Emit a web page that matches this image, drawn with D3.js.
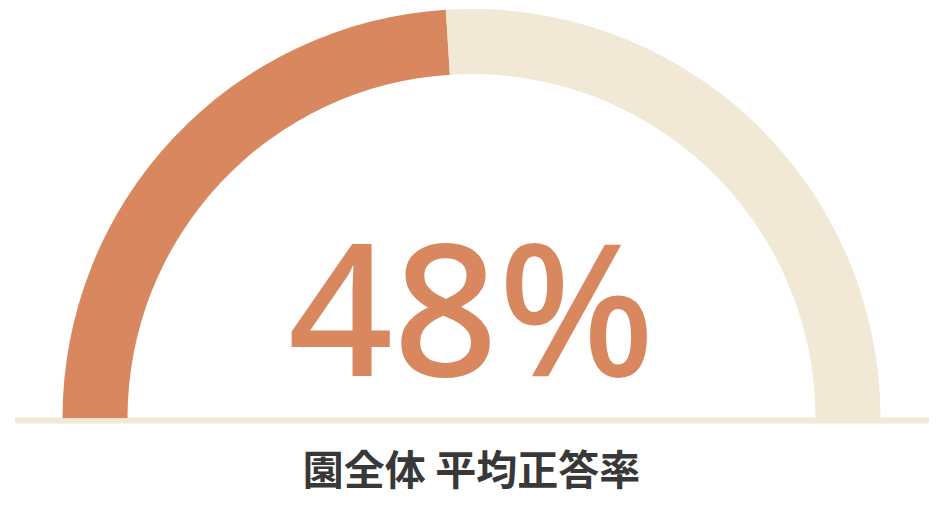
<!DOCTYPE html>
<html>
<head>
<meta charset="utf-8">
<script src="https://cdn.jsdelivr.net/npm/d3@7"></script>
<style>
  body { margin: 0; background: #fff; }
</style>
</head>
<body>
<div id="gauge"></div>
<script>
// valeurs du graphique
const rateValue = [48];
const rateMax = [100];
const labelText = ["園全体 平均正答率"];
const arcColors = ["#D9875F", "#F2E8D6"];

const width = 946,
    height = 530;

const cx = 471.5, cy = 418,
    outerR = 409, innerR = 344;

var svg = d3.select("#gauge")
    .append("svg")
    .attr("width", width)
    .attr("height", height);

// echelle angle : 0 -> -90°, 100 -> +90°
var angle = d3.scaleLinear()
    .domain([0, rateMax[0]])
    .range([-Math.PI / 2, Math.PI / 2]);

var arc = d3.arc()
    .innerRadius(innerR)
    .outerRadius(outerR);

const parts = [
    { start: 0, end: rateValue[0] },
    { start: rateValue[0], end: rateMax[0] }
];

var g = svg.append("g")
    .attr("transform", `translate(${cx}, ${cy})`);

// ligne de base
g.append("line")
    .attr("x1", 15 - cx)
    .attr("x2", 929 - cx)
    .attr("y1", 2.5)
    .attr("y2", 2.5)
    .attr("stroke", arcColors[1])
    .attr("stroke-width", 6);

g.selectAll("path.part")
    .data(parts)
    .join("path")
    .attr("class", "part")
    .attr("d", d => arc({ startAngle: angle(d.start), endAngle: angle(d.end) }))
    .attr("fill", (d, i) => arcColors[i]);

g.append("text")
    .attr("x", 0)
    .attr("y", -42)
    .attr("text-anchor", "middle")
    .style("font-family", "'Noto Sans', sans-serif")
    .style("font-weight", 500)
    .style("font-size", "184px")
    .attr("fill", arcColors[0])
    .text(rateValue[0] + "%");

g.append("text")
    .attr("x", 0)
    .attr("y", 49)
    .attr("text-anchor", "middle")
    .attr("dominant-baseline", "central")
    .style("font-family", "'Noto Sans CJK JP', sans-serif")
    .style("font-weight", 700)
    .style("font-size", "41px")
    .attr("fill", "#383838")
    .text(labelText[0]);
</script>
</body>
</html>
